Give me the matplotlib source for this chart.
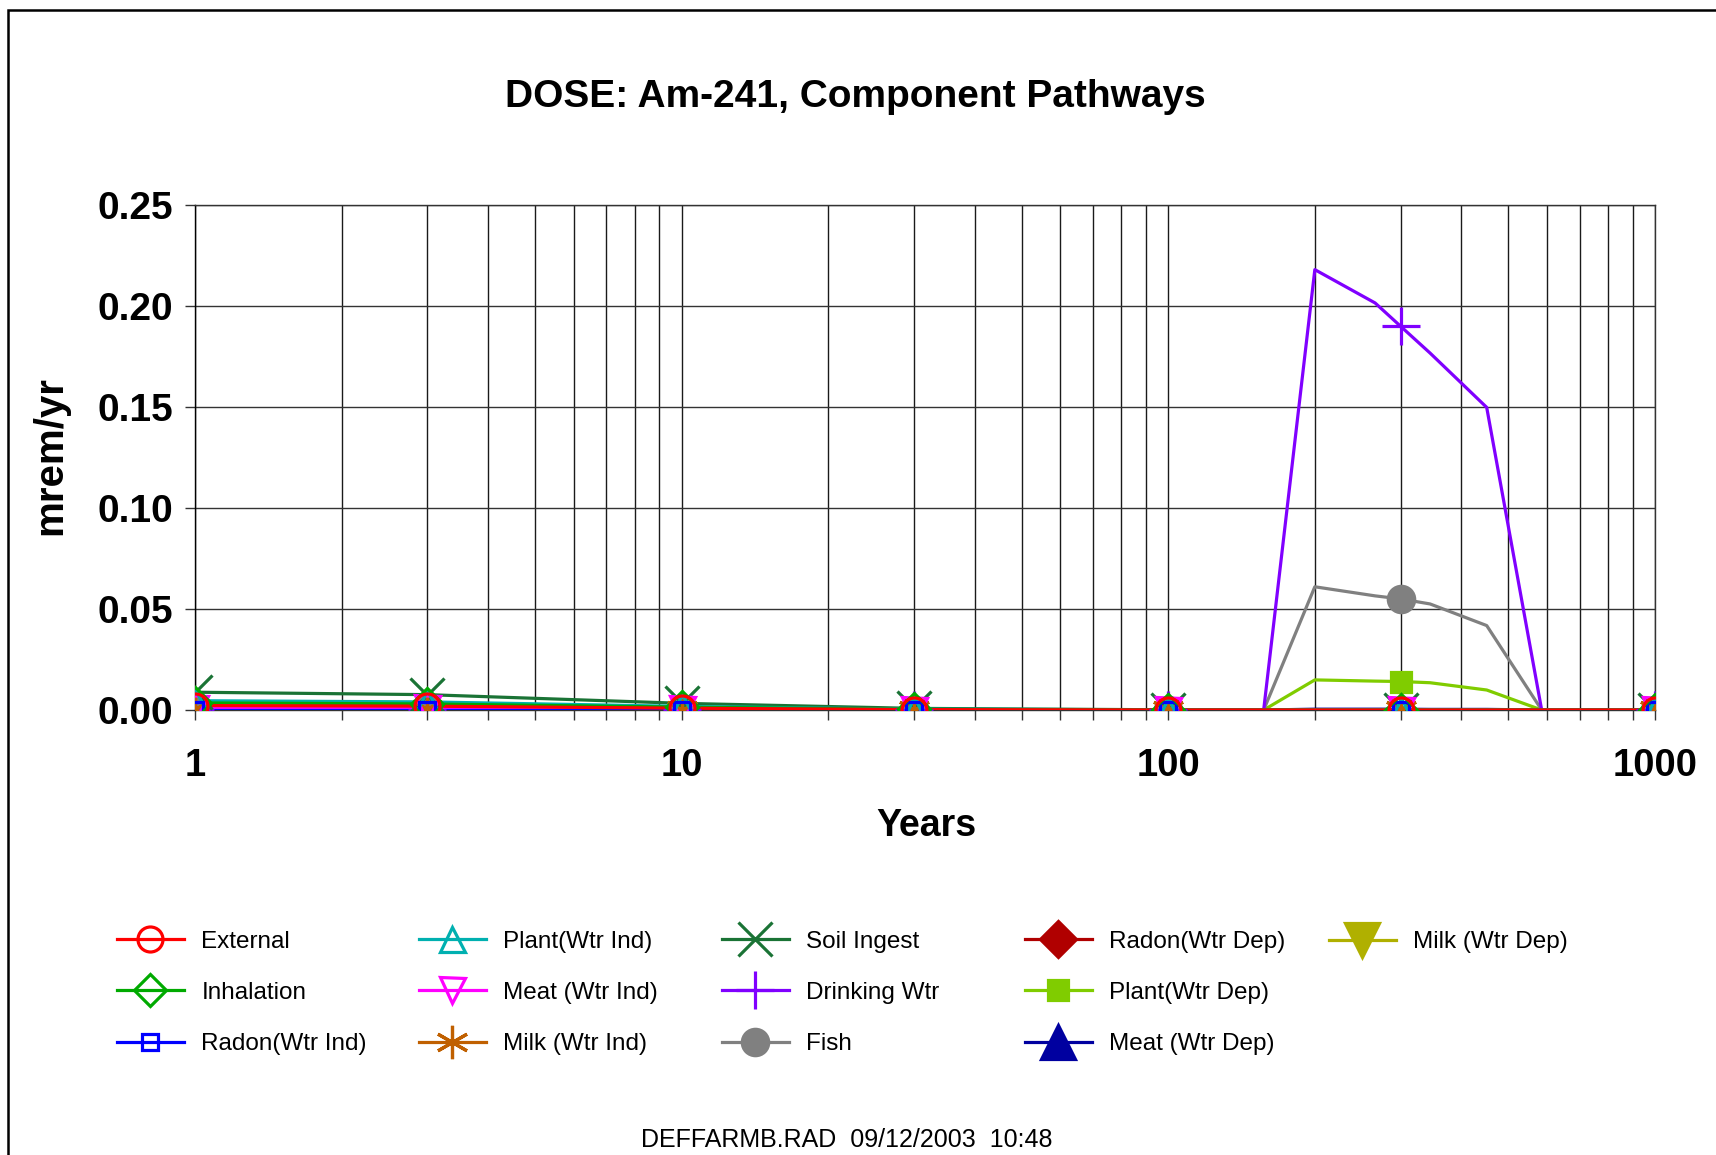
import numpy as np
import matplotlib
matplotlib.use("Agg")
import matplotlib.pyplot as plt
from matplotlib.patches import Rectangle
from matplotlib.lines import Line2D
from matplotlib.ticker import FixedLocator, NullFormatter, FuncFormatter

plt.rcParams['font.family'] = ['Liberation Sans', 'DejaVu Sans']

# years and dose (mrem/yr) per pathway
years = [1, 3, 10, 30, 100, 157, 200, 266, 300, 345, 451, 585, 1000]
marker_idx = [0, 1, 2, 3, 4, 8, 12]   # times with markers

external   = [0.0022, 0.0019, 0.0009, 0.0002, 0.0000, 0, 0, 0, 0, 0, 0, 0, 0]
inhalation = [0.0035, 0.0030, 0.0014, 0.0003, 0.0000, 0, 0, 0, 0, 0, 0, 0, 0]
radon_ind  = [0.0000, 0.0000, 0.0000, 0.0000, 0.0000, 0, 0, 0, 0, 0, 0, 0, 0]
plant_ind  = [0.0046, 0.0040, 0.0018, 0.0004, 0.0001, 0, 0, 0, 0, 0, 0, 0, 0]
meat_ind   = [0.0010, 0.0009, 0.0004, 0.0001, 0.0000, 0, 0, 0, 0, 0, 0, 0, 0]
milk_ind   = [0.0004, 0.0003, 0.0002, 0.0000, 0.0000, 0, 0, 0, 0, 0, 0, 0, 0]
soil       = [0.0088, 0.0076, 0.0033, 0.0008, 0.0001, 0, 0, 0, 0, 0, 0, 0, 0]
drinking   = [0, 0, 0, 0, 0, 0, 0.2180, 0.2015, 0.1900, 0.1767, 0.1498, 0, 0]
fish       = [0, 0, 0, 0, 0, 0, 0.0610, 0.0565, 0.0550, 0.0525, 0.0418, 0, 0]
radon_dep  = [0, 0, 0, 0, 0, 0, 0, 0, 0, 0, 0, 0, 0]
plant_dep  = [0, 0, 0, 0, 0, 0, 0.0149, 0.0143, 0.0141, 0.0135, 0.0099, 0, 0]
meat_dep   = [0, 0, 0, 0, 0, 0, 0.0004, 0.0004, 0.0004, 0.0003, 0.0003, 0, 0]
milk_dep   = [0, 0, 0, 0, 0, 0, 0.0002, 0.0002, 0.0002, 0.0002, 0.0001, 0, 0]

series = [
    # label, data, color, marker, size, filled, markers shown in plot
    ("External",        external,   '#FF0000', 'o',       18, False, True),
    ("Inhalation",      inhalation, '#00AA00', 'D',       16, False, True),
    ("Radon(Wtr Ind)",  radon_ind,  '#0000FF', 's',       11, False, True),
    ("Plant(Wtr Ind)",  plant_ind,  '#00B0B0', '^',       18, False, True),
    ("Meat (Wtr Ind)",  meat_ind,   '#FF00FF', 'v',       18, False, True),
    ("Milk (Wtr Ind)",  milk_ind,   '#C06000', (6, 2, 0), 24, False, True),
    ("Soil Ingest",     soil,       '#1A7335', 'x',       24, False, True),
    ("Drinking Wtr",    drinking,   '#8000FF', '+',       27, False, True),
    ("Fish",            fish,       '#808080', 'o',       19, True,  True),
    ("Radon(Wtr Dep)",  radon_dep,  '#B00000', 'D',       18, True,  False),
    ("Plant(Wtr Dep)",  plant_dep,  '#80CC00', 's',       14, True,  True),
    ("Meat (Wtr Dep)",  meat_dep,   '#0000A0', '^',       24, True,  False),
    ("Milk (Wtr Dep)",  milk_dep,   '#B0B000', 'v',       24, True,  False),
]

W, H = 1716, 1155
fig = plt.figure(figsize=(W/100, H/100), dpi=100)
fig.patch.set_facecolor('white')

# outer chart frame (left and top visible)
fig.patches.append(Rectangle((8/W, -0.2), 2, 1.2 - 10/H, transform=fig.transFigure,
                             fill=False, edgecolor='black', linewidth=1.8))

ax = fig.add_axes([195/W, 1 - 710/H, (1655-195)/W, (710-205)/H])

handles = []
n = len(series)
for i, (label, data, color, marker, ms, filled, show) in enumerate(series):
    z = 3 + (n - i) * 0.1
    ax.plot(years, data, '-', color=color, lw=2.3, zorder=z - 1)
    if show:
        ax.plot([years[k] for k in marker_idx], [data[k] for k in marker_idx], ls='none',
                marker=marker, ms=ms, markeredgewidth=2.3, markeredgecolor=color,
                markerfacecolor=color if filled else 'none', zorder=z)
    handles.append(Line2D([], [], color=color, lw=2.3, marker=marker, ms=ms,
                          markeredgewidth=2.3, markeredgecolor=color,
                          markerfacecolor=color if filled else 'none', label=label))

ax.set_xscale('log')
ax.set_xlim(1, 1000)
ax.set_ylim(0, 0.25)
ax.set_yticks(np.arange(0, 0.2501, 0.05))
ax.yaxis.set_major_formatter(FuncFormatter(lambda v, p: "%.2f" % v))
ax.xaxis.set_major_locator(FixedLocator([1, 10, 100, 1000]))
ax.xaxis.set_major_formatter(FuncFormatter(lambda v, p: "%d" % round(v)))
ax.xaxis.set_minor_locator(FixedLocator([m * d for d in [1, 10, 100] for m in range(2, 10)]))
ax.xaxis.set_minor_formatter(NullFormatter())

ax.grid(True, which='both', axis='x', color='0.1', lw=1.0)
ax.grid(True, which='major', axis='y', color='0.2', lw=1.0)
ax.set_axisbelow(True)
for s in ax.spines.values():
    s.set_color('0.2')
    s.set_linewidth(1.0)
ax.spines['left'].set_color('black')

ax.tick_params(axis='both', which='both', direction='out', length=7, width=1, color='0.2')
ax.tick_params(axis='y', which='major', labelsize=28, pad=9)
ax.tick_params(axis='x', which='major', labelsize=27.5, pad=20.5)
for t in ax.get_xticklabels() + ax.get_yticklabels():
    t.set_fontweight('bold')

fig.text(855/W, 1 - 97/H, "DOSE: Am-241, Component Pathways", ha='center', va='center',
         fontsize=28, fontweight='bold')
fig.text(50/W, 1 - 456/H, "mrem/yr", ha='center', va='center', rotation=90,
         fontsize=29, fontweight='bold')
fig.text(926/W, 1 - 826/H, "Years", ha='center', va='center',
         fontsize=27, fontweight='bold')
fig.text(847/W, 1 - 1140/H, "DEFFARMB.RAD  09/12/2003  10:48", ha='center', va='center',
         fontsize=18)

# legend: five columns at fixed positions
col_x = [117, 419, 722, 1025, 1329]
for c in range(5):
    hs = handles[c*3:c*3+3]
    if not hs:
        continue
    cy = 993 if len(hs) == 3 else 942
    fig.legend(handles=hs, loc='center left', bbox_to_anchor=(col_x[c]/W, 1 - cy/H),
               frameon=False, fontsize=17.5, handlelength=2.75, handletextpad=0.72,
               labelspacing=1.2, borderpad=0, borderaxespad=0, numpoints=1)

fig.savefig("out.png", dpi=100)
